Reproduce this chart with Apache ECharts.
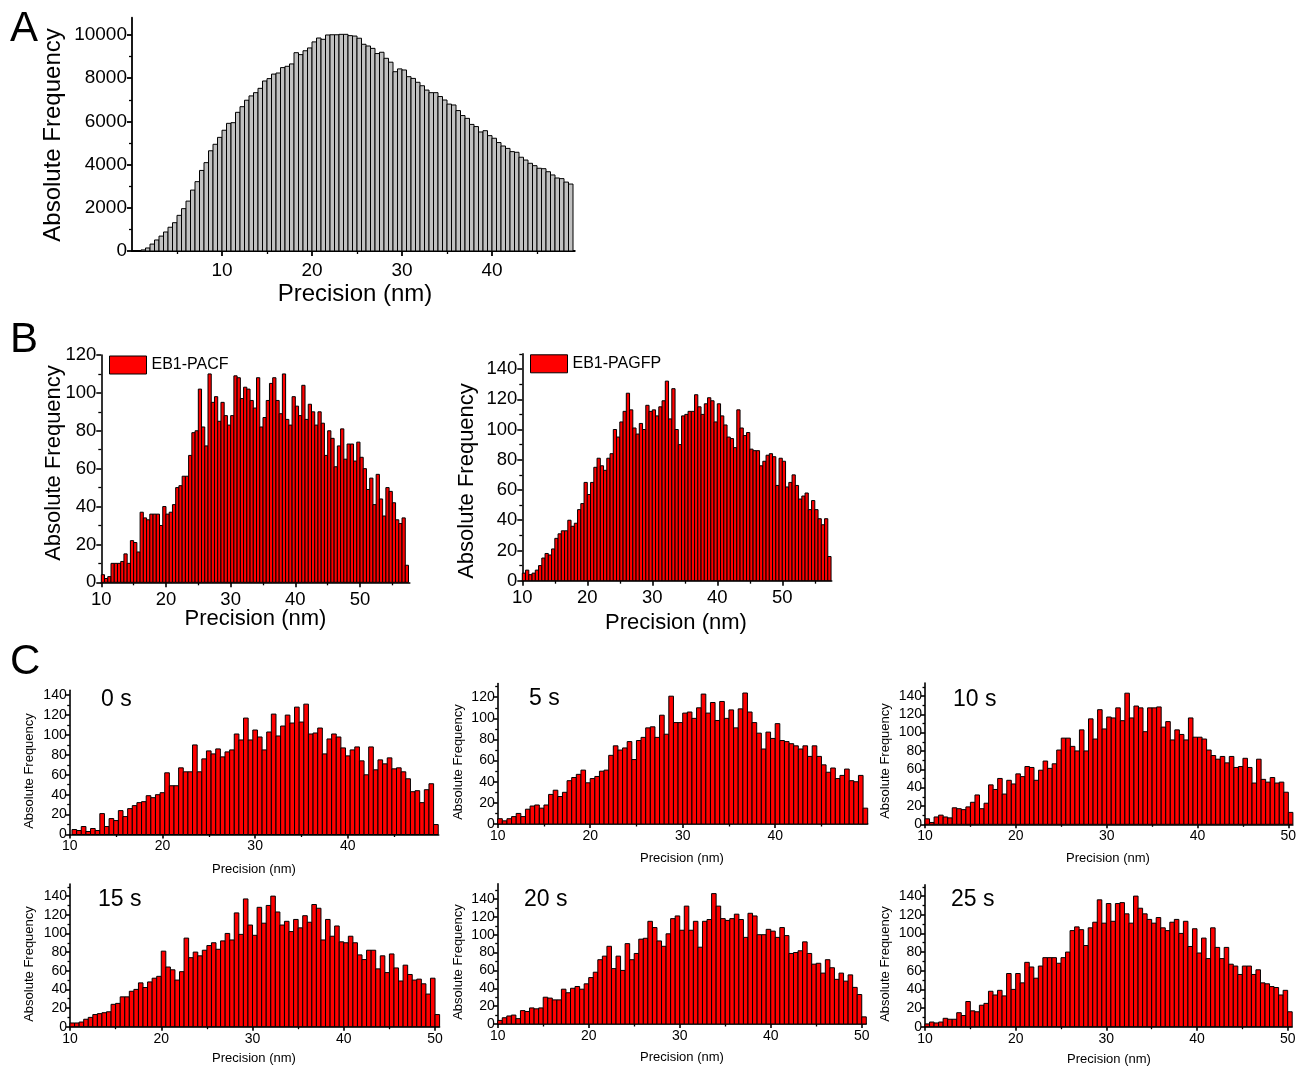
<!DOCTYPE html>
<html><head><meta charset="utf-8">
<script src="https://cdn.jsdelivr.net/npm/echarts@6/dist/echarts.min.js"></script>
<style>html,body{margin:0;padding:0;background:#fff}#c{width:1311px;height:1075px}</style>
</head><body><div id="c"></div>
<script>
// ---------------- DATA ----------------
const binWidth = 0.5;
// Panel A: all precisions, bins from 1 nm
const startA = 1;
const freqA = [50,140,320,510,690,880,1100,1310,1650,1960,2310,2820,3210,3730,4090,4640,4940,5260,5590,5910,5940,6420,6680,6980,7180,7330,7530,7870,7980,8190,8240,8490,8550,8660,9180,9090,9270,9400,9680,9860,9800,10000,10010,10010,10030,10030,9970,9950,
  9850,9570,9490,9380,9140,9200,8920,8740,8300,8430,8380,8070,7990,7810,7650,7450,7330,7330,7150,6990,6800,6760,6500,6270,6140,5860,5760,5510,5570,5340,5220,5020,4860,4750,4600,4570,4340,4210,4060,3950,3830,3810,3670,3520,3380,3350,3190,3100];
// Panel B
const startB = 10;
const freqPACF = [4,2,3,10,10,10,11,15,10,22,21,16,37,34,33,36,36,36,30,40,36,37,41,50,51,56,56,67,79,80,
  102,82,72,110,95,98,85,95,88,83,88,109,108,97,103,102,96,92,108,82,87,96,105,108,96,89,110,
  86,83,98,93,88,104,86,94,90,83,90,84,67,80,76,61,72,81,65,73,73,64,74,66,60,49,55,41,57,44,35,50,48,42,33,31,34,9];
const freqPAGFP = [5,7,4,5,7,10,15,18,17,21,28,31,33,33,40,36,38,47,51,65,57,65,75,81,76,73,81,84,100,95,105,112,
  124,113,101,97,104,100,116,112,113,109,115,119,132,107,127,100,90,
  109,110,112,112,123,115,110,117,121,119,105,117,109,103,95,94,88,113,
  101,96,98,87,86,86,76,79,83,84,82,63,81,79,62,65,70,63,54,56,58,47,53,47,41,37,41,16];
// Panel C: time series
const start0s = 10.25;
const freq0s = [5,4,8,3,6,4,21,8,16,14,24,18,26,29,32,33,39,37,40,42,62,49,49,67,63,63,90,63,76,84,81,86,78,83,85,101,95,117,
  95,105,98,85,103,121,99,109,120,112,128,113,131,101,102,107,81,96,101,98,87,79,85,88,74,60,88,65,75,71,77,66,67,63,56,43,44,32,45,51,10];
const startC = 10;
const freq5s = [5,3,5,7,10,7,14,17,18,15,18,28,32,26,30,41,44,47,51,39,43,45,50,51,65,74,70,72,78,61,79,82,91,92,82,103,85,121,
  96,96,105,106,100,110,123,105,115,98,116,100,108,91,109,124,106,96,86,71,87,81,
  95,79,78,76,74,71,74,64,74,64,56,49,53,43,46,52,41,40,46,15];
const freq10s = [6,2,8,10,8,7,18,17,16,19,24,32,17,23,43,38,50,33,48,44,55,52,63,62,48,59,69,61,66,81,
  94,94,85,80,103,80,115,93,125,104,117,116,127,113,143,116,129,127,101,127,127,128,106,112,92,103,98,92,116,
  95,95,93,81,75,71,74,67,74,62,63,72,62,45,71,49,46,51,45,46,35,13];
const freq15s = [4,4,5,8,10,13,14,15,16,24,25,32,32,38,40,47,42,48,52,54,81,64,61,50,59,95,74,80,76,82,87,90,83,92,100,93,122,99,
  137,109,98,128,111,130,140,123,109,113,102,115,106,119,112,131,127,93,115,97,108,
  91,90,97,90,77,72,82,82,62,76,58,78,63,49,66,56,50,51,46,35,52,13];
const freq20s = [4,7,9,10,6,15,14,18,17,18,30,29,27,27,39,35,40,42,39,45,52,58,72,76,87,62,76,60,90,72,79,95,96,115,
  108,93,87,101,118,121,105,132,105,115,86,115,117,146,132,118,116,118,123,117,97,124,121,100,100,106,104,97,108,99,
  79,80,82,92,79,67,68,57,72,63,50,57,48,55,41,33,8];
const freq25s = [3,5,4,5,9,8,8,15,12,27,17,16,23,25,38,34,39,33,57,40,57,47,69,64,52,65,74,74,74,68,74,80,103,107,104,87,106,112,
  136,111,132,113,132,133,121,111,140,127,121,115,111,117,106,103,112,115,100,113,86,105,79,95,73,106,
  85,73,85,67,65,56,65,65,56,61,47,46,43,42,34,39,16];
// tick labels
const ticksA_x = [10,20,30,40], ticksA_y = [0,2000,4000,6000,8000,10000];
const ticksB_x = [10,20,30,40,50];
const ticksB1_y = [0,20,40,60,80,100,120], ticksB2_y = [0,20,40,60,80,100,120,140];
const ticksC_x4 = [10,20,30,40], ticksC_x5 = [10,20,30,40,50];
const ticksC_y120 = [0,20,40,60,80,100,120], ticksC_y140 = [0,20,40,60,80,100,120,140];
const seriesNames = ['All','EB1-PACF','EB1-PAGFP','0 s','5 s','10 s','15 s','20 s','25 s'];
const xName = 'Precision (nm)', yName = 'Absolute Frequency';

// ---------------- LAYOUT ----------------
const FONT = '"Liberation Sans", Arial, Helvetica, sans-serif';
function bins(start, arr){ return arr.map((v,i)=>[start+i*binWidth, start+(i+1)*binWidth, v]); }
function steps(a,b,s){ const r=[]; for(let v=a; v<=b+1e-9; v+=s) r.push(+v.toFixed(6)); return r; }
const fmt = v => String(v);

const panels = [
 {name:seriesNames[0], data:bins(startA,freqA), left:132, top:17.7, width:442.8, height:233.3, xMin:0, xMax:49.2, yMax:10800,
  xMaj:ticksA_x, xMin_:steps(5,45,10), yMaj:ticksA_y, yMin_:steps(1000,9000,2000), fill:'#c0c0c0', fs:19, maj:5, mnr:3, xm:10, ym:5, lw:1.8},
 {name:seriesNames[1], data:bins(startB,freqPACF), left:101.3, top:355, width:308.5, height:227.3, xMin:10, xMax:57.7, yMax:120,
  xMaj:ticksB_x, xMin_:steps(15,55,10), yMaj:ticksB1_y, yMin_:steps(10,110,20), fill:'#ff0000', fs:18.5, maj:5, mnr:3, xm:8, ym:5, lw:1.6, legend:[109,355.5]},
 {name:seriesNames[2], data:bins(startB,freqPAGFP), left:522.3, top:353.9, width:309.4, height:226.8, xMin:10, xMax:57.6, yMax:150,
  xMaj:ticksB_x, xMin_:steps(15,55,10), yMaj:ticksB2_y, yMin_:steps(10,150,20), fill:'#ff0000', fs:18.5, maj:5, mnr:3, xm:8, ym:5, lw:1.6, legend:[530,354.3]},
 {name:seriesNames[3], data:bins(start0s,freq0s), left:69.7, top:690.2, width:369, height:144.3, xMin:10, xMax:49.8, yMax:145,
  xMaj:ticksC_x4, xMin_:steps(15,45,10), yMaj:ticksC_y140, yMin_:steps(10,130,20), fill:'#ff0000', fs:14, maj:4, mnr:2.5, xm:5, ym:3, lw:1.6},
 {name:seriesNames[4], data:bins(startC,freq5s), left:497.7, top:683.5, width:370, height:140.5, xMin:10, xMax:50, yMax:133,
  xMaj:ticksC_x4, xMin_:steps(15,45,10), yMaj:ticksC_y120, yMin_:steps(10,130,20), fill:'#ff0000', fs:14, maj:4, mnr:2.5, xm:5, ym:3, lw:1.6},
 {name:seriesNames[5], data:bins(startC,freq10s), left:925, top:683.1, width:367.9, height:141.2, xMin:10, xMax:50.5, yMax:154,
  xMaj:ticksC_x5, xMin_:steps(15,45,10), yMaj:ticksC_y140, yMin_:steps(10,150,20), fill:'#ff0000', fs:14, maj:4, mnr:2.5, xm:5, ym:3, lw:1.6},
 {name:seriesNames[6], data:bins(startC,freq15s), left:70, top:884, width:369.6, height:142.7, xMin:10, xMax:50.5, yMax:153,
  xMaj:ticksC_x5, xMin_:steps(15,45,10), yMaj:ticksC_y140, yMin_:steps(10,150,20), fill:'#ff0000', fs:14, maj:4, mnr:2.5, xm:5, ym:3, lw:1.6},
 {name:seriesNames[7], data:bins(startC,freq20s), left:497.7, top:883.8, width:368.6, height:140.2, xMin:10, xMax:50.5, yMax:157,
  xMaj:ticksC_x5, xMin_:steps(15,45,10), yMaj:ticksC_y140, yMin_:steps(10,150,20), fill:'#ff0000', fs:14, maj:4, mnr:2.5, xm:5, ym:3, lw:1.6},
 {name:seriesNames[8], data:bins(startC,freq25s), left:925, top:884.9, width:367.2, height:141.8, xMin:10, xMax:50.5, yMax:152,
  xMaj:ticksC_x5, xMin_:steps(15,45,10), yMaj:ticksC_y140, yMin_:steps(10,150,20), fill:'#ff0000', fs:14, maj:4, mnr:2.5, xm:5, ym:3, lw:1.6}
];

const grid=[], xAxis=[], yAxis=[], series=[], legend=[];
const black = '#000';
panels.forEach((p,k)=>{
  grid.push({left:p.left, top:p.top, width:p.width, height:p.height});
  const common = {type:'value', gridIndex:k, splitLine:{show:false}, silent:true};
  xAxis.push(Object.assign({}, common, {min:p.xMin, max:p.xMax, position:'bottom',
    axisLine:{show:true, onZero:false, lineStyle:{color:black, width:p.lw}},
    axisTick:{show:true, length:p.maj, customValues:p.xMaj, lineStyle:{color:black, width:p.lw}},
    axisLabel:{show:true, customValues:p.xMaj, margin:p.xm, color:black, fontSize:p.fs, fontFamily:FONT, formatter:fmt}}));
  xAxis.push(Object.assign({}, common, {min:p.xMin, max:p.xMax, position:'bottom',
    axisLine:{show:false}, axisLabel:{show:false},
    axisTick:{show:true, length:p.mnr, customValues:p.xMin_, lineStyle:{color:black, width:1.3}}}));
  yAxis.push(Object.assign({}, common, {min:0, max:p.yMax, position:'left',
    axisLine:{show:true, onZero:false, lineStyle:{color:black, width:p.lw}},
    axisTick:{show:true, length:p.maj, customValues:p.yMaj, lineStyle:{color:black, width:p.lw}},
    axisLabel:{show:true, customValues:p.yMaj, margin:p.ym, color:black, fontSize:p.fs, fontFamily:FONT, formatter:fmt}}));
  yAxis.push(Object.assign({}, common, {min:0, max:p.yMax, position:'left',
    axisLine:{show:false}, axisLabel:{show:false},
    axisTick:{show:true, length:p.mnr, customValues:p.yMin_, lineStyle:{color:black, width:1.3}}}));
  series.push({type:'custom', name:p.name, xAxisIndex:2*k, yAxisIndex:2*k, clip:false, silent:true,
    itemStyle:{color:p.fill}, encode:{x:[0,1], y:2}, data:p.data,
    renderItem:(params, api)=>{
      const a = api.coord([api.value(0), api.value(2)]);
      const b = api.coord([api.value(1), 0]);
      return {type:'rect', shape:{x:a[0], y:a[1], width:b[0]-a[0], height:b[1]-a[1]},
        style:{fill:p.fill, stroke:'#000', lineWidth:1}};
    }});
  if (p.legend) legend.push({data:[p.name], left:p.legend[0], top:p.legend[1], padding:0, itemWidth:37, itemHeight:18,
    icon:'rect', selectedMode:false, itemStyle:{color:'#ff0000', borderColor:'#000', borderWidth:1},
    textStyle:{fontSize:16, fontFamily:FONT, color:'#000'}});
});

function txt(t, x, y, size, opts){
  return Object.assign({type:'text', x:x, y:y, silent:true,
    style:{text:t, fill:'#000', font:size+'px '+FONT, align:(opts&&opts.align)||'center', verticalAlign:'middle'}},
    (opts&&opts.rot)?{rotation:Math.PI/2}:{});
}
const graphic = [
  txt('A',10,29,42,{align:'left'}), txt('B',10,340,42,{align:'left'}), txt('C',10,662,42,{align:'left'}),
  txt(yName,53,135,24,{rot:true}), txt(xName,355,294,24),
  txt(yName,54,463,22,{rot:true}), txt(xName,255.5,619,22),
  txt(yName,467,481,22,{rot:true}), txt(xName,676,623,22),
  txt(yName,29,771,13,{rot:true}), txt(xName,254,869,13),
  txt(yName,458,762,13,{rot:true}), txt(xName,682,858,13),
  txt(yName,885,761,13,{rot:true}), txt(xName,1108,858,13),
  txt(yName,29,964,13,{rot:true}), txt(xName,254,1058,13),
  txt(yName,458,962,13,{rot:true}), txt(xName,682,1057,13),
  txt(yName,885,964,13,{rot:true}), txt(xName,1109,1059,13),
  txt(seriesNames[3],101,699.5,23,{align:'left'}), txt(seriesNames[4],529,698.5,23,{align:'left'}),
  txt(seriesNames[5],953,700,23,{align:'left'}), txt(seriesNames[6],98,900,23,{align:'left'}),
  txt(seriesNames[7],524,900,23,{align:'left'}), txt(seriesNames[8],951,900,23,{align:'left'})
];

const chart = echarts.init(document.getElementById('c'), null, {renderer:'canvas'});
chart.setOption({backgroundColor:'#fff', animation:false, grid, xAxis, yAxis, series, legend, graphic});
</script></body></html>
